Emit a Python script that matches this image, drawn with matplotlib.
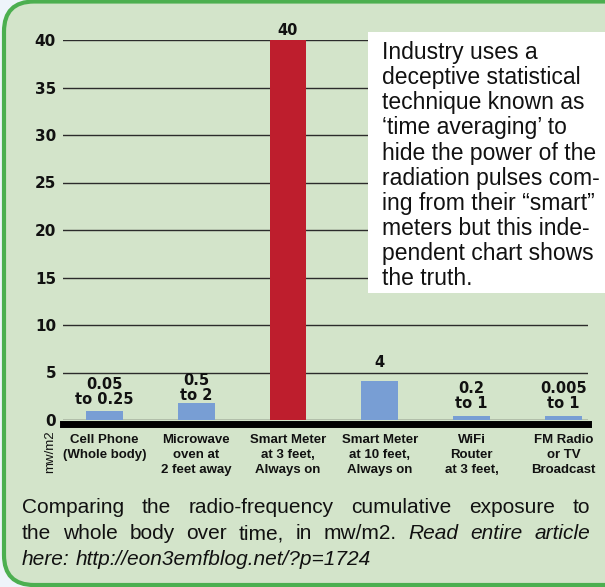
import matplotlib
matplotlib.use('Agg')
import matplotlib.pyplot as plt
from matplotlib.patches import FancyBboxPatch, Rectangle
from matplotlib.transforms import IdentityTransform

# data
categories = ['Cell Phone\n(Whole body)', 'Microwave\noven at\n2 feet away',
              'Smart Meter\nat 3 feet,\nAlways on', 'Smart Meter\nat 10 feet,\nAlways on',
              'WiFi\nRouter\nat 3 feet,', 'FM Radio\nor TV\nBroadcast']
bar_heights = [0.9, 1.75, 40, 4.1, 0.45, 0.45]
value_labels = ['0.05\nto 0.25', '0.5\nto 2', '40', '4', '0.2\nto 1', '0.005\nto 1']
y_ticks = [0, 5, 10, 15, 20, 25, 30, 35, 40]

note = ("Industry uses a\ndeceptive statistical\ntechnique known as\n"
        "\u2018time averaging\u2019 to\nhide the power of the\nradiation pulses com-\n"
        "ing from their \u201csmart\u201d\nmeters but this inde-\npendent chart shows\nthe truth.")
caption = [
    [('Comparing', 'normal'), ('the', 'normal'), ('radio-frequency', 'normal'),
     ('cumulative', 'normal'), ('exposure', 'normal'), ('to', 'normal')],
    [('the', 'normal'), ('whole', 'normal'), ('body', 'normal'), ('over', 'normal'),
     ('time,', 'normal'), ('in', 'normal'), ('mw/m2.', 'normal'), ('Read', 'italic'),
     ('entire', 'italic'), ('article', 'italic')],
    [('here:', 'italic'), ('http://eon3emfblog.net/?p=1724', 'italic')],
]

# styles
blue = '#789ED4'
red = '#BE1E2D'
bg = '#D3E4CA'
bar_colors = [red if h == max(bar_heights) else blue for h in bar_heights]
label_gap = [4, 0, 2, 11, 5, 5]

W, H = 605, 587
fig = plt.figure(figsize=(W / 100, H / 100), dpi=100, facecolor='#EEF4FA')

def fx(x):
    return x / W

def fy(y):
    return 1 - y / H

panel = FancyBboxPatch((4, H - 585), 700, 583.5, boxstyle='round,pad=0,rounding_size=30',
                       transform=IdentityTransform(), fc=bg, ec='#4CAF50', lw=3, zorder=-1)
fig.add_artist(panel)

ax = fig.add_axes([fx(63), fy(420), (588 - 63) / W, (420 - 40) / H])
ax.set_facecolor('none')
x = list(range(len(categories)))
ax.bar(x, bar_heights, width=0.4, color=bar_colors, zorder=2)
ax.set_xlim(-0.45, 5.267)
ax.set_ylim(0, 40)
for s in ax.spines.values():
    s.set_visible(False)
ax.set_yticks(y_ticks)
ax.yaxis.grid(True, color='#2b2b2b', lw=1.0, zorder=1)
ax.set_axisbelow(True)
ax.tick_params(axis='y', length=0, pad=5, labelsize=11)
for t in ax.get_yticklabels():
    t.set_fontweight('bold')
    t.set_family('DejaVu Sans')
    t.set_color('#111111')
ax.set_xticks(x, categories, fontfamily='Liberation Sans', fontweight='bold',
              fontsize=9.5, linespacing=1.32, color='#111111')
ax.tick_params(axis='x', length=0, pad=10)
ax.axhline(-0.47, color='black', lw=5.0, clip_on=False, zorder=3)

for i, (h, lbl) in enumerate(zip(bar_heights, value_labels)):
    ax.annotate(lbl, (i, h), xytext=(0, label_gap[i]), textcoords='offset pixels',
                ha='center', va='bottom', fontsize=10.5, fontweight='bold',
                family='DejaVu Sans', linespacing=1.0, color='#111111')

fig.text(fx(50), fy(452), 'mw/m2', rotation=90, ha='center', va='center',
         family='Liberation Sans', fontsize=9.5, color='#111111')

box = Rectangle((368, H - 293), 260, 261, transform=IdentityTransform(),
                fc='white', ec='none', zorder=2)
fig.add_artist(box)
fig.text(fx(382), fy(41), note, ha='left', va='top', family='Liberation Sans',
         fontsize=16.5, linespacing=1.12, color='#111111', zorder=3)

# justified caption
r = fig.canvas.get_renderer()
sp = fig.text(0, 0, 'a a', fontsize=15, family='Liberation Sans')
nsp = fig.text(0, 0, 'aa', fontsize=15, family='Liberation Sans')
space_w = sp.get_window_extent(r).width - nsp.get_window_extent(r).width
sp.remove()
nsp.remove()
baselines = [513, 539, 565]
for k, words in enumerate(caption):
    items = [fig.text(0, fy(baselines[k]), w, fontsize=15, family='Liberation Sans',
                      style=st, va='baseline', ha='left', color='#111111')
             for w, st in words]
    widths = [t.get_window_extent(r).width for t in items]
    x0, x1 = 22, 590
    if k < len(caption) - 1:
        gap = (x1 - x0 - sum(widths)) / (len(items) - 1)
    else:
        gap = space_w
    xp = x0
    for t, wd in zip(items, widths):
        t.set_x(fx(xp))
        xp += wd + gap

fig.savefig('out.png', dpi=100, facecolor=fig.get_facecolor())
